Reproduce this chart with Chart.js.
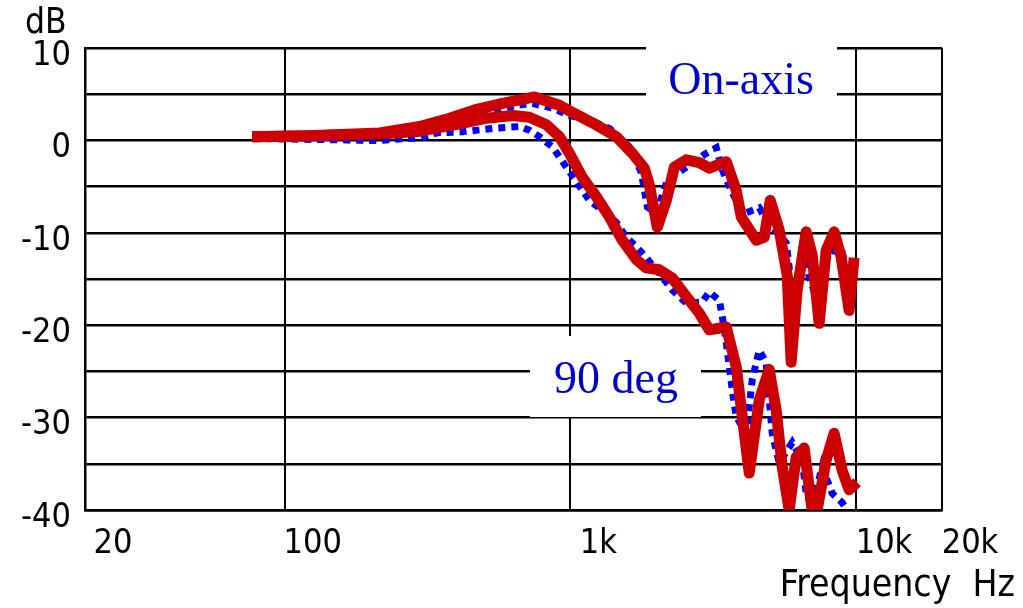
<!DOCTYPE html>
<html>
<head>
<meta charset="utf-8">
<script src="https://cdn.jsdelivr.net/npm/chart.js@4.4.0/dist/chart.umd.min.js"></script>
<style>
    html, body { margin: 0; padding: 0; background: #fff; }
</style>
</head>
<body>
<canvas id="myChart" width="1023" height="608"></canvas>
<script>
// axis ticks
const xTickValues = [20, 100, 1000, 10000, 20000];
const xTickLabels = ['20', '100', '1k', '10k', '20k'];

// on-axis, red (measured) and blue dotted
const onRedHz = [77, 122, 215, 297, 378, 462, 579, 749, 916, 993, 1195, 1450, 1649, 1816, 1890, 2016, 2168, 2312, 2546, 2827, 3064, 3515, 3808, 3966, 4475, 4771, 5008, 5384, 5742, 5929, 6223, 6692, 7023, 7430, 7862, 8385, 8872, 9460, 9849];
const onRedDb = [0.4, 0.5, 0.8, 1.5, 2.4, 3.3, 4.0, 4.7, 3.8, 3.2, 1.9, 0.4, -1.4, -3.0, -4.8, -9.4, -6.5, -2.9, -2.1, -2.4, -3.0, -2.3, -5.4, -8.3, -10.8, -10.5, -6.5, -9.7, -14.6, -24.0, -16.2, -9.9, -12.4, -19.8, -11.9, -9.9, -12.6, -18.4, -12.7];

const onBlueHz = [77, 122, 215, 297, 390, 509, 648, 737, 866, 993, 1166, 1370, 1609, 1773, 1860, 2000, 2186, 2465, 2991, 3243, 3404, 3688, 4063, 4584, 4848, 5696, 5834, 5977, 6480, 6855, 7312, 7862, 8250, 8943, 9235, 9692];
const onBlueDb = [0.2, 0.2, 0.0, 0.3, 1.3, 3.0, 3.8, 4.0, 3.5, 2.7, 2.2, 1.3, -0.7, -3.5, -7.2, -7.9, -4.3, -3.2, -1.4, -0.8, -3.2, -5.7, -7.9, -7.3, -8.6, -11.1, -13.7, -20.5, -11.3, -14.8, -17.3, -12.7, -11.9, -12.1, -13.7, -14.0];

// 90 degrees
const offRedHz = [77, 122, 215, 297, 410, 509, 627, 719, 825, 916, 993, 1102, 1234, 1370, 1521, 1703, 1845, 2049, 2275, 2546, 2827, 3064, 3515, 3808, 3998, 4229, 4584, 4967, 5255, 5516, 5834, 6173, 6585, 7023, 7312, 7862, 8385, 8943, 9460, 10090];
const offRedDb = [0.4, 0.5, 0.7, 1.0, 1.8, 2.4, 2.7, 2.5, 1.7, 0.4, -1.4, -4.0, -6.1, -8.3, -10.8, -12.9, -13.8, -14.0, -14.9, -16.9, -18.7, -20.5, -20.2, -24.5, -29.9, -36.0, -28.1, -24.8, -29.2, -35.3, -40.0, -34.3, -33.3, -40.0, -40.0, -34.6, -31.7, -35.7, -37.8, -37.0];

const offBlueHz = [77, 215, 297, 410, 534, 664, 719, 780, 866, 969, 1166, 1338, 1450, 1571, 1703, 1845, 2049, 2275, 2546, 2896, 3064, 3323, 3404, 3515, 3688, 3808, 4129, 4332, 4584, 4848, 5089, 5384, 5977, 6480, 6692, 7023, 7612, 8250, 8943, 9300];
const offBlueDb = [0.2, 0.0, 0.8, 0.9, 1.3, 1.5, 1.1, 0.4, -0.7, -2.9, -6.5, -7.9, -8.9, -10.5, -11.5, -12.7, -14.4, -16.2, -17.6, -17.5, -16.4, -17.3, -19.1, -21.9, -27.0, -29.9, -31.7, -25.9, -22.7, -24.1, -31.7, -34.9, -32.7, -34.6, -38.2, -39.7, -35.3, -38.2, -39.2, -40.0];

function pts(hz, db) {
    return hz.map((f, i) => ({ x: f, y: db[i] }));
}

const RED = '#cc0000';
const BLUE = '#0000ff';
const TEXT_BLUE = '#0000cc';

// white boxes behind the two captions, then the captions and axis titles
const notes = {
    id: 'notes',
    beforeDatasetsDraw(chart) {
        const c = chart.ctx;
        c.save();
        c.fillStyle = '#fff';
        c.fillRect(646, 38, 191, 70);
        c.fillRect(530, 336, 171, 81);
        c.restore();
    },
    afterDatasetsDraw(chart) {
        const c = chart.ctx;
        c.save();
        c.fillStyle = TEXT_BLUE;
        c.font = '46px "Liberation Serif", "Times New Roman", serif';
        c.textAlign = 'center';
        c.textBaseline = 'alphabetic';
        c.fillText('On-axis', 741, 94);
        c.fillText('90 deg', 616, 393);
        c.fillStyle = '#000';
        c.font = '35px "DejaVu Sans Condensed", "DejaVu Sans", sans-serif';
        c.textAlign = 'left';
        c.fillText('dB', 25, 33);
        c.font = '37px "DejaVu Sans Condensed", "DejaVu Sans", sans-serif';
        c.textAlign = 'right';
        c.fillText('Frequency  Hz', 1015, 596);
        c.restore();
    }
};

const tickFont = { family: '"DejaVu Sans Condensed", "DejaVu Sans", sans-serif', size: 34 };

new Chart(document.getElementById('myChart'), {
    type: 'line',
    data: {
        datasets: [{
            label: 'On-axis',
            data: pts(onRedHz, onRedDb),
            borderColor: RED,
            borderWidth: 11,
            borderJoinStyle: 'round'
        }, {
            label: '90 deg',
            data: pts(offRedHz, offRedDb),
            borderColor: RED,
            borderWidth: 11,
            borderJoinStyle: 'round'
        }, {
            label: 'On-axis (dotted)',
            data: pts(onBlueHz, onBlueDb),
            borderColor: BLUE,
            borderWidth: 7,
            borderDash: [7, 6]
        }, {
            label: '90 deg (dotted)',
            data: pts(offBlueHz, offBlueDb),
            borderColor: BLUE,
            borderWidth: 7,
            borderDash: [7, 6]
        }]
    },
    options: {
        responsive: false,
        animation: false,
        devicePixelRatio: 1,
        elements: {
            point: { radius: 0 },
            line: { tension: 0, fill: false }
        },
        layout: { padding: { top: 48, right: 81, left: 0, bottom: 0 } },
        plugins: {
            legend: { display: false },
            tooltip: { enabled: false }
        },
        scales: {
            x: {
                type: 'logarithmic',
                min: 20,
                max: 20000,
                afterBuildTicks: (s) => { s.ticks = xTickValues.map(v => ({ value: v })); },
                afterFit: (s) => { s.height = 98; },
                grid: { color: '#000', lineWidth: 2, drawTicks: false },
                border: { color: '#000', width: 2.5 },
                ticks: {
                    color: '#000',
                    font: tickFont,
                    labelOffset: 28,
                    padding: 14,
                    maxRotation: 0,
                    autoSkip: false,
                    callback: (v, i) => xTickLabels[i]
                }
            },
            y: {
                min: -40,
                max: 10,
                afterFit: (s) => { s.width = 85; },
                grid: { color: '#000', lineWidth: 2.5, drawTicks: false },
                border: { color: '#000', width: 2.5 },
                ticks: {
                    stepSize: 5,
                    color: '#000',
                    font: tickFont,
                    padding: 14,
                    labelOffset: 8,
                    callback: (v) => (v % 10 === 0 ? String(v) : '')
                }
            }
        }
    },
    plugins: [notes]
});
</script>
</body>
</html>
